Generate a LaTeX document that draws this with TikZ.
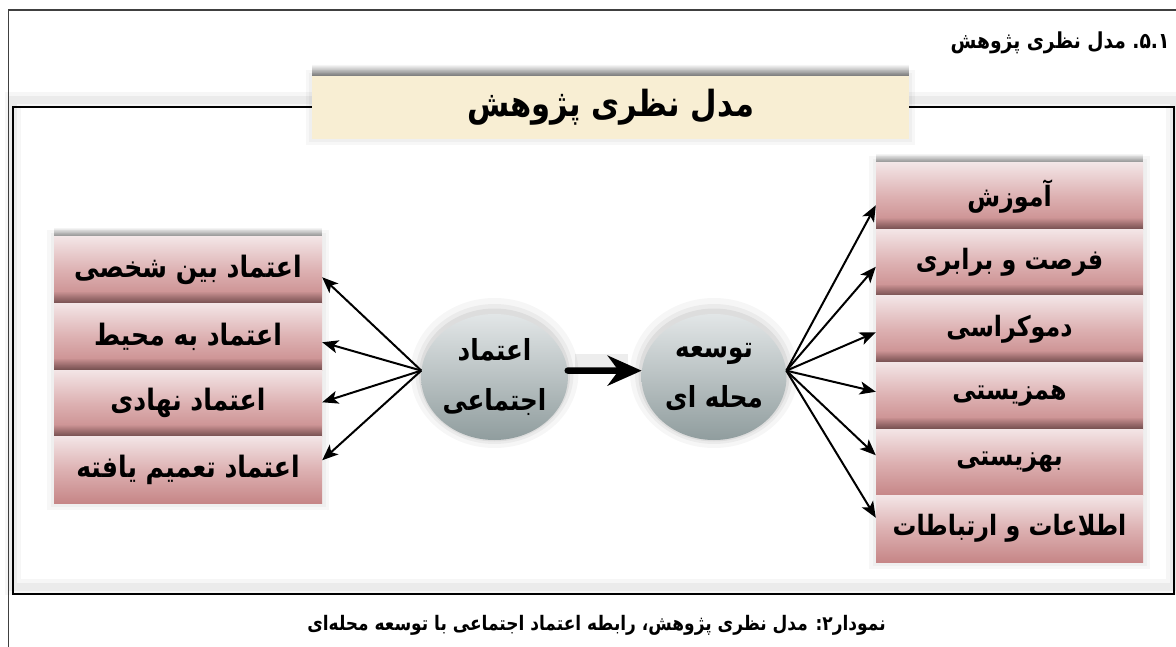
\documentclass[tikz,border=0pt]{standalone}
\usepackage{fontspec}
\TeXXeTstate=1
\newfontfamily\fa[Script=Arabic, FakeStretch=0.85]{DejaVu Sans}
\usetikzlibrary{arrows.meta,fadings,shapes.geometric,calc}
\definecolor{cream}{HTML}{F8EED3}
\definecolor{pinktop}{HTML}{F3E5E6}
\definecolor{pinkmid}{HTML}{DDB1B2}
\definecolor{pinkbot}{HTML}{C68687}
\definecolor{graytop}{HTML}{E2E6E7}
\definecolor{graybot}{HTML}{909D9E}
\tikzset{
  pbox/.style={rectangle, inner sep=0pt, minimum height=66.5pt, top color=pinktop, bottom color=pinkbot, middle color=pinkmid, font=\fa\bfseries\fontsize{28}{32}\selectfont},
  lbox/.style={pbox, minimum width=268pt, font=\fa\bfseries\fontsize{29.5}{32}\selectfont},
  rbox/.style={pbox, minimum width=267pt},
  circ/.style={ellipse, inner sep=0pt, minimum width=145pt, minimum height=126pt, top color=graytop, bottom color=graybot, align=center, font=\fa\bfseries\fontsize{29}{50}\selectfont},
  fan/.style={line width=2pt, -{Stealth[length=16pt,width=13pt,inset=4pt]}},
  shad/.style={fill=black, fill opacity=0.42, path fading=north},
  glow/.style={draw=black, draw opacity=0.03},
}
\begin{document}
\begin{tikzpicture}[x=1pt,y=-1pt]
\useasboundingbox (0,0) rectangle (1176,647);
\fill[white] (0,0) rectangle (1176,647);
% outer frame
\draw[line width=1.2pt, black!75] (8.3,650) -- (8.3,10) -- (1180,10);
% inner frame
\draw[black, draw opacity=0.035, line width=16pt] (13,100) rectangle (1174,587);
\draw[black, draw opacity=0.045, line width=8pt] (13,100) rectangle (1174,587);
\draw[line width=2pt] (12.7,107) rectangle (1174,594);
% title
\draw[glow, line width=12pt] (312,76) rectangle (909,139);
\draw[glow, line width=6pt] (312,76) rectangle (909,139);
\fill[shad, fill opacity=0.5] (312,64) rectangle (909,76);
\node[rectangle, fill=cream, minimum width=597pt, minimum height=63pt, inner sep=0pt, font=\fa\bfseries\fontsize{36}{40}\selectfont] (title) at (610.5,107.5) {\beginR مدل نظری پژوهش\endR};
% left boxes
\draw[glow, line width=14pt] (54,237) rectangle (322,503);
\draw[glow, line width=7pt] (54,237) rectangle (322,503);
\fill[shad] (54,227) rectangle (322,237);
\node[lbox] (l1) at (188,270.25) {\beginR اعتماد بین شخصی\endR};
\fill[shad] (54,291) rectangle (322,303.5);
\node[lbox] (l2) at (188,336.75) {\beginR اعتماد به محیط\endR};
\fill[shad] (54,358) rectangle (322,370);
\node[lbox] (l3) at (188,403.25) {\beginR اعتماد نهادی\endR};
\fill[shad] (54,424.5) rectangle (322,436.5);
\node[lbox] (l4) at (188,469.75) {\beginR اعتماد تعمیم یافته\endR};
% right boxes
\draw[glow, line width=14pt] (876,163) rectangle (1143,562);
\draw[glow, line width=7pt] (876,163) rectangle (1143,562);
\fill[shad] (876,153) rectangle (1143,163);
\node[rbox] (r1) at (1009.5,196.25) {\beginR آموزش\endR};
\fill[shad] (876,217.5) rectangle (1143,229.5);
\node[rbox] (r2) at (1009.5,262.75) {\beginR فرصت و برابری\endR};
\fill[shad] (876,284) rectangle (1143,296);
\node[rbox] (r3) at (1009.5,329.25) {\beginR دموکراسی\endR};
\fill[shad] (876,350.5) rectangle (1143,362.5);
\node[rbox] (r4) at (1009.5,395.75) {\beginR همزیستی\endR};
\fill[shad] (876,417) rectangle (1143,429);
\node[rbox] (r5) at (1009.5,462.25) {\beginR بهزیستی\endR};
\node[rbox] (r6) at (1009.5,528.75) {\beginR اطلاعات و ارتباطات\endR};
% circles
\foreach \cx in {494.5,714}{
  \fill[black, opacity=0.035] (\cx,373) ellipse [x radius=84, y radius=75];
  \fill[black, opacity=0.045] (\cx,374) ellipse [x radius=79, y radius=70];
  \fill[black, opacity=0.06] (\cx,375) ellipse [x radius=75.5, y radius=66.5];
}
\node[circ] (lc) at (494.5,377) {\beginR اعتماد\endR\\\beginR اجتماعی\endR};
\node[circ] (rc) at (714,377) {\beginR توسعه\endR\\\beginR محله ای\endR};
% arrows
\draw[black, opacity=0.07, line width=16pt] (575,362) -- (628,362);
\draw[line width=6.5pt, line cap=round, -{Stealth[length=34pt,width=30pt,inset=11pt]}] (lc.5) -- (rc.175);
\draw[fan] (lc.175) -- ($(l1.east)+(0,7)$);
\draw[fan] (lc.175) -- ($(l2.east)+(0,5.5)$);
\draw[fan] (lc.175) -- ($(l3.east)+(0,-1)$);
\draw[fan] (lc.175) -- ($(l4.east)+(0,-9.5)$);
\draw[fan] (rc.5) -- ($(r1.west)+(0,9)$);
\draw[fan] (rc.5) -- ($(r2.west)+(0,4)$);
\draw[fan] (rc.5) -- ($(r3.west)+(0,3)$);
\draw[fan] (rc.5) -- ($(r4.west)+(0,-4)$);
\draw[fan] (rc.5) -- ($(r5.west)+(0,-7)$);
\draw[fan] (rc.5) -- ($(r6.west)+(0,-11)$);
% heading and caption
\node[anchor=east, font=\fa\bfseries\fontsize{22}{24}\selectfont] (head) at (1173,43) {\beginR\beginL\hbox{.}\hbox{۵}\hbox{.}\hbox{۱}\endL{} مدل نظری پژوهش\endR};
\node[font=\fa\bfseries\fontsize{20}{22}\selectfont] (cap) at (596.5,625) {\beginR نمودار۲: مدل نظری پژوهش، رابطه اعتماد اجتماعی با توسعه محله‌ای\endR};
\end{tikzpicture}
\end{document}
